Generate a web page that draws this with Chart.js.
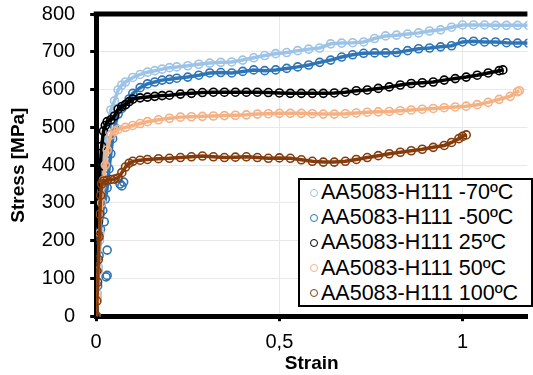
<!DOCTYPE html>
<html>
<head>
<meta charset="utf-8">
<script src="https://cdn.jsdelivr.net/npm/chart.js@4.4.1/dist/chart.umd.min.js"></script>
<style>
  html, body { margin: 0; padding: 0; background: #fff; }
  #wrap { position: relative; width: 533px; height: 375px; font-family: 'Liberation Sans', Arial, sans-serif; }
  #legend {
    position: absolute; left: 298px; top: 178px; width: 231px; height: 125px;
    border: 2px solid #000; background: #fff; padding: 0; box-sizing: content-box;
  }
  .lg-row { display: flex; align-items: center; height: 25.2px; font-size: 21.5px; color: #000; white-space: nowrap; }
  .lg-dot { width: 6px; height: 6px; border-radius: 50%; border: 1.5px solid; margin: 0 3px 0 10px; }
</style>
</head>
<body>
<div id="wrap">
  <canvas id="c" width="533" height="375"></canvas>
  <div id="legend"></div>
</div>
<script>
// series: strain [-] / stress [MPa]
const labels = ['AA5083-H111 -70ºC', 'AA5083-H111 -50ºC', 'AA5083-H111 25ºC', 'AA5083-H111 50ºC', 'AA5083-H111 100ºC'];
const colors = ['#9DC3E6', '#2E75B6', '#000000', '#F4B183', '#843C0C'];

const m70Strain = [0, 0.003, 0.006, 0.009, 0.012, 0.015, 0.02, 0.025, 0.03, 0.04, 0.05, 0.06, 0.07, 0.08, 0.1, 0.12, 0.14, 0.16, 0.18, 0.2, 0.22, 0.25, 0.28, 0.31, 0.34, 0.37, 0.4, 0.43, 0.46, 0.49, 0.52, 0.55, 0.58, 0.61, 0.64, 0.67, 0.7, 0.73, 0.76, 0.79, 0.82, 0.85, 0.88, 0.91, 0.94, 0.97, 1.0, 1.03, 1.06, 1.09, 1.12, 1.15, 1.18];
const m70Stress = [0, 60, 130, 200, 270, 330, 400, 450, 500, 546, 570, 599, 612, 620, 632, 640, 646, 650, 654, 658, 660, 663, 667, 670, 672, 673, 678, 684, 690, 695, 698, 703, 707, 710, 721, 723, 724, 726, 735, 742, 744, 747, 750, 755, 758, 765, 771, 771, 771, 770, 770, 770, 770];

const m50Strain = [0, 0.004, 0.008, 0.012, 0.018, 0.025, 0.03, 0.035, 0.04, 0.045, 0.05, 0.06, 0.07, 0.08, 0.09, 0.1, 0.12, 0.14, 0.16, 0.18, 0.2, 0.22, 0.25, 0.28, 0.31, 0.34, 0.37, 0.4, 0.43, 0.46, 0.49, 0.52, 0.55, 0.58, 0.61, 0.64, 0.67, 0.7, 0.73, 0.76, 0.79, 0.82, 0.85, 0.88, 0.91, 0.94, 0.97, 1.0, 1.03, 1.06, 1.09, 1.12, 1.15, 1.18];
const m50Stress = [0, 80, 160, 230, 280, 310, 340, 390, 430, 470, 500, 535, 550, 560, 575, 590, 605, 615, 620, 625, 627, 630, 633, 638, 644, 645, 644, 648, 652, 650, 652, 656, 660, 665, 672, 678, 686, 692, 696, 697, 697, 698, 703, 708, 710, 713, 716, 726, 728, 726, 726, 724, 723, 723];
// stray points of the -50ºC test near the origin
const m50StrayStrain = [0.027, 0.03, 0.03, 0.022, 0.065, 0.075, 0.07];
const m50StrayStress = [104, 108, 175, 250, 350, 355, 345];

const r25Strain = [0, 0.003, 0.006, 0.01, 0.015, 0.02, 0.025, 0.03, 0.04, 0.05, 0.06, 0.07, 0.08, 0.09, 0.1, 0.12, 0.14, 0.16, 0.18, 0.2, 0.23, 0.26, 0.29, 0.32, 0.35, 0.38, 0.41, 0.44, 0.47, 0.5, 0.53, 0.56, 0.59, 0.62, 0.65, 0.68, 0.71, 0.74, 0.77, 0.8, 0.83, 0.86, 0.89, 0.92, 0.95, 0.98, 1.01, 1.04, 1.07, 1.1, 1.11];
const r25Stress = [0, 120, 250, 380, 450, 490, 505, 515, 520, 530, 548, 555, 560, 568, 575, 578, 580, 582, 584, 585, 588, 590, 592, 593, 593, 593, 593, 593, 592, 591, 590, 590, 590, 590, 591, 593, 597, 599, 603, 607, 612, 616, 618, 620, 625, 629, 633, 638, 644, 650, 652];

const p50Strain = [0, 0.003, 0.006, 0.01, 0.015, 0.02, 0.025, 0.03, 0.04, 0.05, 0.06, 0.08, 0.1, 0.12, 0.14, 0.17, 0.2, 0.23, 0.26, 0.29, 0.32, 0.35, 0.38, 0.41, 0.44, 0.47, 0.5, 0.53, 0.56, 0.59, 0.62, 0.65, 0.68, 0.71, 0.74, 0.77, 0.8, 0.83, 0.86, 0.89, 0.92, 0.95, 0.98, 1.01, 1.04, 1.07, 1.1, 1.13, 1.15, 1.155];
const p50Stress = [0, 50, 120, 220, 300, 360, 400, 440, 480, 490, 495, 500, 505, 510, 515, 520, 524, 527, 528, 529, 530, 531, 532, 533, 535, 536, 537, 537, 537, 536, 535, 535, 536, 538, 540, 541, 542, 544, 546, 548, 550, 552, 554, 556, 560, 566, 574, 582, 594, 597];

const p100Strain = [0, 0.002, 0.004, 0.006, 0.008, 0.01, 0.012, 0.015, 0.02, 0.03, 0.04, 0.05, 0.06, 0.07, 0.08, 0.09, 0.1, 0.12, 0.14, 0.17, 0.2, 0.23, 0.26, 0.29, 0.32, 0.35, 0.38, 0.41, 0.44, 0.47, 0.5, 0.53, 0.56, 0.59, 0.62, 0.65, 0.68, 0.71, 0.74, 0.77, 0.8, 0.83, 0.86, 0.89, 0.92, 0.95, 0.97, 0.99, 1.0, 1.01];
const p100Stress = [0, 40, 90, 150, 210, 270, 320, 350, 358, 360, 362, 363, 366, 380, 395, 405, 410, 413, 415, 417, 418, 420, 422, 424, 422, 420, 421, 422, 420, 418, 419, 418, 414, 410, 408, 408, 410, 415, 420, 425, 430, 434, 438, 442, 447, 452, 460, 470, 476, 480];

const xTicks = [0, 0.5, 1];
const yTicks = [0, 100, 200, 300, 400, 500, 600, 700, 800];

const pts = (xs, ys) => xs.map((x, i) => ({ x, y: ys[i] }));

function series(i, xs, ys, order) {
  return {
    label: labels[i],
    data: pts(xs, ys),
    showLine: true,
    borderColor: colors[i],
    borderWidth: 3.5,
    pointRadius: 4,
    pointBorderWidth: 1.6,
    pointBackgroundColor: 'rgba(255,255,255,0)',
    pointBorderColor: colors[i],
    order,
  };
}

const datasets = [
  series(0, m70Strain, m70Stress, 5),
  series(1, m50Strain, m50Stress, 4),
  { label: '', data: pts(m50StrayStrain, m50StrayStress), showLine: false, pointRadius: 4, pointBorderWidth: 1.6,
    pointBackgroundColor: 'rgba(255,255,255,0)', pointBorderColor: colors[1], order: 4 },
  series(2, r25Strain, r25Stress, 3),
  series(3, p50Strain, p50Stress, 2),
  series(4, p100Strain, p100Stress, 1),
];

// thick frame line along the top of the plot area
const topFrame = {
  id: 'topFrame',
  afterDraw(chart) {
    const { ctx, chartArea: a } = chart;
    ctx.save();
    ctx.strokeStyle = '#000';
    ctx.lineWidth = 5;
    ctx.beginPath();
    ctx.moveTo(a.left - 2.5, a.top);
    ctx.lineTo(a.right, a.top);
    ctx.stroke();
    ctx.restore();
  },
};

const font = "'Liberation Sans', Arial, sans-serif";

new Chart(document.getElementById('c'), {
  type: 'scatter',
  data: { datasets },
  options: {
    responsive: false,
    animation: false,
    layout: { padding: { top: 14, right: 0, left: 7, bottom: 0 } },
    plugins: { legend: { display: false }, tooltip: { enabled: false } },
    scales: {
      x: {
        type: 'linear', min: 0, max: 1.177,
        afterBuildTicks: (s) => { s.ticks = xTicks.map(v => ({ value: v })); },
        ticks: { color: '#000', font: { family: font, size: 20 }, padding: 9,
          callback: (v) => String(v).replace('.', ',') },
        grid: { color: '#e8e8e8', lineWidth: 1, tickColor: '#000', tickLength: 5, tickWidth: 3 },
        border: { color: '#000', width: 5 },
        title: { display: true, text: 'Strain', color: '#000', font: { family: font, size: 19, weight: 'bold' }, padding: { top: -11, bottom: 0 } },
      },
      y: {
        type: 'linear', min: 0, max: 800,
        afterBuildTicks: (s) => { s.ticks = yTicks.map(v => ({ value: v })); },
        // keep the label gap from pushing the plot top down
        afterFit: (s) => { s.paddingTop = 0; s.paddingBottom = 0; },
        ticks: { color: '#000', font: { family: font, size: 20 }, padding: 15 },
        grid: { color: '#e8e8e8', lineWidth: 1, tickColor: '#000', tickLength: 6, tickWidth: 3 },
        border: { color: '#000', width: 5 },
        title: { display: true, text: 'Stress [MPa]', color: '#000', font: { family: font, size: 19, weight: 'bold' }, padding: { top: 0, bottom: -3 } },
      },
    },
  },
  plugins: [topFrame],
});

// legend box in the lower right, built from the same labels/colours
const lg = document.getElementById('legend');
lg.innerHTML = labels.map((t, i) =>
  `<div class="lg-row"><span class="lg-dot" style="border-color:${colors[i]}"></span>${t}</div>`
).join('');
</script>
</body>
</html>
